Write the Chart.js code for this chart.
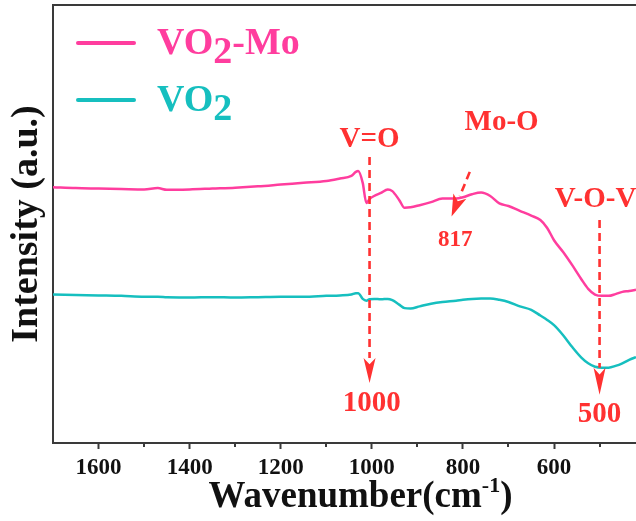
<!DOCTYPE html>
<html><head><meta charset="utf-8">
<script src="https://cdn.jsdelivr.net/npm/chart.js@4.4.1/dist/chart.umd.min.js"></script>
<style>html,body{margin:0;padding:0;background:#fff;overflow:hidden}#wrap{width:636px;height:521px;position:relative}canvas{display:block}</style>
</head><body><div id="wrap"><canvas id="c" width="636" height="521"></canvas></div>
<script>
// ---- data ----
const wavenumbers = [1700,1650,1600,1550,1500,1470,1450,1400,1350,1300,1250,1200,1150,1100,1070,1045,1035,1030,1020,1012,1005,995,980,965,955,940,928,915,895,870,845,815,800,780,760,740,720,700,675,650,630,615,600,580,560,540,525,510,495,480,465,450,435,420];
const vo2MoIntensity = [58.4,58.2,58.1,58.0,57.9,58.2,57.8,57.9,58.1,58.3,58.6,59.0,59.4,59.8,60.4,61.0,61.9,62.1,59.4,54.8,55.7,56.4,57.1,57.9,57.5,55.5,53.7,53.8,54.3,55.0,55.8,55.8,56.1,56.8,57.2,56.4,54.7,54.1,53.0,51.9,50.9,49.1,46.3,43.6,40.6,37.4,35.2,33.9,33.6,33.6,34.0,34.5,34.7,35.0];
const vo2Intensity = [33.9,33.8,33.7,33.6,33.4,33.4,33.3,33.2,33.3,33.2,33.3,33.4,33.4,33.6,33.7,33.9,34.2,34.2,32.9,32.5,32.8,32.9,32.8,32.9,32.6,31.6,30.8,30.7,31.2,31.8,32.2,32.5,32.7,32.9,33.0,33.0,32.7,32.2,31.2,30.4,29.1,28.1,26.9,24.6,21.9,19.5,18.2,17.4,17.2,17.2,17.6,18.2,19.0,19.6];
const seriesNames = ['VO2-Mo', 'VO2'];
const majorTicks = [1600,1400,1200,1000,800,600];
const minorTicks = [1500,1300,1100,900,700,500];
const bandNames = ['V=O', 'Mo-O', 'V-O-V'];
const bandPositions = [1000, 817, 500];
const bandPositionLabels = ['1000', '817', '500'];
const xTitle = ['Wavenumber(cm', '-1', ')'];
const yTitle = 'Intensity (a.u.)';

// ---- styles ----
const FONT = "'Times New Roman','Liberation Serif',serif";
const PINK = '#FF3D9E';
const TEAL = '#16BFBF';
const RED = '#FF3131';
const AXIS = '#3a3a3a';

function toXY(ys){ return wavenumbers.map((w,i)=>({x:w,y:ys[i]})); }

function drawChem(ctx, text, x, baseline, size, color){
  ctx.save();
  ctx.font = 'bold ' + size + 'px ' + FONT;
  ctx.fillStyle = color; ctx.textAlign = 'left'; ctx.textBaseline = 'alphabetic';
  const parts = text.split(/(\d)/).filter(s=>s.length);
  let cx = x;
  for (const p of parts){
    const sub = /^\d$/.test(p);
    ctx.fillText(p, cx, baseline + (sub ? size*0.24 : 0));
    cx += ctx.measureText(p).width;
  }
  ctx.restore();
}

function dashedArrow(ctx, x1, y1, x2, y2, headLen, headW){
  const dx = x2-x1, dy = y2-y1, L = Math.hypot(dx,dy);
  const ux = dx/L, uy = dy/L;
  const bx = x2 - ux*headLen, by = y2 - uy*headLen;
  ctx.save();
  ctx.strokeStyle = RED; ctx.fillStyle = RED; ctx.lineWidth = 2.6;
  ctx.setLineDash([8,5]);
  ctx.beginPath(); ctx.moveTo(x1,y1); ctx.lineTo(bx,by); ctx.stroke();
  ctx.setLineDash([]);
  ctx.beginPath();
  ctx.moveTo(x2,y2);
  ctx.lineTo(bx - uy*headW/2, by + ux*headW/2);
  ctx.lineTo(bx + ux*headLen*0.25, by + uy*headLen*0.25);
  ctx.lineTo(bx + uy*headW/2, by - ux*headW/2);
  ctx.closePath(); ctx.fill();
  ctx.restore();
}

function redText(ctx, t, x, y, size){
  ctx.save();
  ctx.font = 'bold ' + size + 'px ' + FONT;
  ctx.fillStyle = RED; ctx.textAlign = 'center'; ctx.textBaseline = 'middle';
  ctx.fillText(t, x, y);
  ctx.restore();
}

const decorPlugin = {
  id: 'decor',
  afterDraw(chart){
    const ctx = chart.ctx, a = chart.chartArea;
    const xs = chart.scales.x, ys = chart.scales.y;
    const X = v => xs.getPixelForValue(v), Y = v => ys.getPixelForValue(v);
    // top frame line
    ctx.save();
    ctx.strokeStyle = AXIS; ctx.lineWidth = 2;
    ctx.beginPath(); ctx.moveTo(a.left-1, a.top); ctx.lineTo(a.right, a.top); ctx.stroke();
    // minor ticks
    ctx.beginPath();
    for (const v of minorTicks){ const px = Math.round(X(v)); ctx.moveTo(px, a.bottom); ctx.lineTo(px, a.bottom+4); }
    ctx.stroke();
    ctx.restore();
    // legend
    const colors = [PINK, TEAL];
    const rows = [43, 100];
    seriesNames.forEach((n,i)=>{
      ctx.save();
      ctx.strokeStyle = colors[i]; ctx.lineWidth = 4; ctx.lineCap = 'round';
      ctx.beginPath(); ctx.moveTo(78, rows[i]); ctx.lineTo(134, rows[i]); ctx.stroke();
      ctx.restore();
      drawChem(ctx, n, 157, rows[i]+10.5, 38, colors[i]);
    });
    // band annotations
    // V=O
    dashedArrow(ctx, X(1005), Y(65.3), X(1005), Y(13.7), 25, 12);
    redText(ctx, bandNames[0], X(1005), Y(69.2), 29);
    redText(ctx, bandPositionLabels[0], X(bandPositions[0]), Y(9.1), 29);
    // Mo-O
    dashedArrow(ctx, X(785), Y(61.9), X(825), Y(51.7), 22, 14);
    redText(ctx, bandNames[1], X(715), Y(73.1), 29);
    redText(ctx, bandPositionLabels[1], X(bandPositions[1]), Y(46.3), 23);
    // V-O-V
    dashedArrow(ctx, X(bandPositions[2]), Y(50.9), X(bandPositions[2]), Y(11.0), 27, 12);
    redText(ctx, bandNames[2], X(bandPositions[2]) - 4, Y(55.5), 29);
    redText(ctx, bandPositionLabels[2], X(bandPositions[2]), Y(6.6), 29);
    // x axis title with superscript
    ctx.save();
    ctx.fillStyle = '#111'; ctx.textBaseline = 'alphabetic'; ctx.textAlign = 'left';
    const big = 'bold 37px ' + FONT, small = 'bold 22px ' + FONT;
    ctx.font = big; const w1 = ctx.measureText(xTitle[0]).width, w3 = ctx.measureText(xTitle[2]).width;
    ctx.font = small; const w2 = ctx.measureText(xTitle[1]).width;
    let sx = 360.5 - (w1+w2+w3)/2;
    ctx.font = big; ctx.fillText(xTitle[0], sx, 507); sx += w1;
    ctx.font = small; ctx.fillText(xTitle[1], sx, 492); sx += w2;
    ctx.font = big; ctx.fillText(xTitle[2], sx, 507);
    ctx.restore();
  }
};

new Chart(document.getElementById('c'), {
  type: 'line',
  data: {
    datasets: [
      { label: seriesNames[0], data: toXY(vo2MoIntensity), borderColor: PINK, borderWidth: 2.5, pointRadius: 0, fill: false, cubicInterpolationMode: 'monotone' },
      { label: seriesNames[1], data: toXY(vo2Intensity), borderColor: TEAL, borderWidth: 2.5, pointRadius: 0, fill: false, cubicInterpolationMode: 'monotone' }
    ]
  },
  options: {
    responsive: false, animation: false, devicePixelRatio: 1,
    layout: { padding: { top: 5, left: 0, right: 0, bottom: 0 } },
    plugins: { legend: { display: false }, tooltip: { enabled: false } },
    scales: {
      x: {
        type: 'linear', reverse: true, min: 420, max: 1700,
        afterBuildTicks: s => { s.ticks = majorTicks.map(v => ({ value: v })); },
        afterFit: s => { s.height = 78; },
        grid: { display: true, drawOnChartArea: false, drawTicks: true, tickLength: 6, tickWidth: 2, tickColor: AXIS },
        border: { display: true, color: AXIS, width: 2 },
        ticks: { autoSkip: false, maxRotation: 0, padding: 5, color: '#111', font: { family: FONT, size: 23, weight: 'bold' }, callback: v => String(v) }
      },
      y: {
        min: 0, max: 100,
        afterFit: s => { s.width = 53; },
        ticks: { display: false },
        grid: { display: false, drawTicks: false },
        border: { display: true, color: AXIS, width: 2 },
        title: { display: true, text: yTitle, color: '#111', font: { family: FONT, size: 38, weight: 'bold' }, padding: { top: 4, bottom: 0 } }
      }
    }
  },
  plugins: [decorPlugin]
});
</script></body></html>
